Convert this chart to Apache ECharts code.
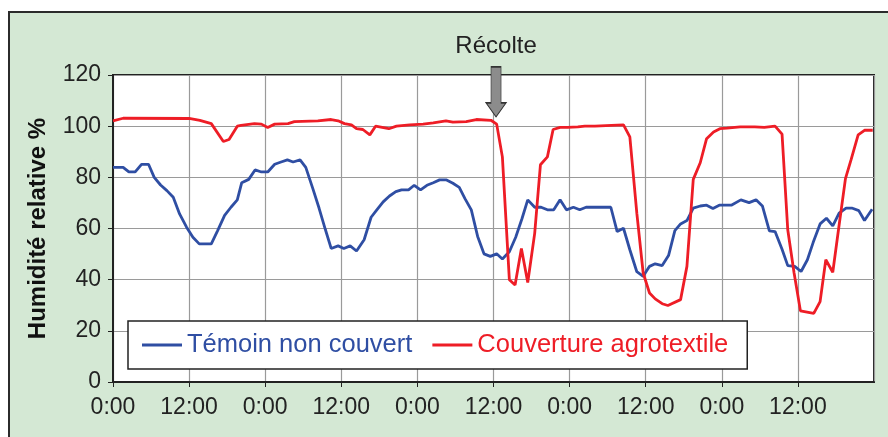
<!DOCTYPE html>
<html>
<head>
<meta charset="utf-8">
<script src="https://cdn.jsdelivr.net/npm/echarts@6.0.0/dist/echarts.min.js"></script>
<style>
  html, body { margin: 0; padding: 0; background: #fff; }
  .frame {
    position: absolute; left: 8px; top: 11px; width: 900px; height: 450px;
    background: #d4e8d4; border: 2px solid #2b2b2b;
  }
  #mychart { position: absolute; left: 0; top: 0; width: 888px; height: 437px; }
</style>
</head>
<body>
<div class="frame"></div>
<div id="mychart"></div>
<script>
// heures depuis le début (0:00 du premier jour)
const blueHours = [0, 1.6, 2.5, 3.5, 4.5, 5.6, 6.5, 7.5, 8.5, 9.5, 10.5, 11.6, 12.6, 13.6, 15.5, 16.5, 17.6, 18.6, 19.6,
  20.3, 21.4, 22.4, 23.4, 24.4, 25.5, 26.5, 27.5, 28.4, 29.5, 30.4, 31.5, 32.5, 33.5, 34.4, 35.5, 36.4, 37.4, 38.4, 39.6,
  40.7, 41.6, 42.6, 43.6, 44.6, 45.5, 46.6, 47.5, 48.5, 49.5, 50.5, 51.5, 52.6, 53.6, 54.6, 55.5, 56.5, 57.5, 58.5, 59.5,
  60.5, 61.4, 62.5, 63.5, 64.5, 65.4, 66.5, 67.5, 68.5, 69.5, 70.5, 71.5, 72.6, 73.6, 74.6, 78.5, 79.5,
  80.5, 81.5, 82.6, 83.6, 84.6, 85.5, 86.6, 87.6, 88.6, 89.5, 90.5, 91.5, 92.6, 93.6, 94.6, 95.6, 97.5, 99,
  100.3, 101.4, 102.4, 103.5, 104.4, 105.5, 106.4, 107.5, 108.5, 109.5, 110.4, 111.5, 112.5, 113.5, 114.5, 115.6, 116.5,
  117.6, 118.5, 119.7]
const temoin = [83.9, 83.9, 82.1, 82.1, 85.1, 85.1, 80, 77, 74.8, 72.2, 65.7, 60.5, 56.6, 54, 54, 59.2, 65.1, 68.3, 71.2,
  77.9, 79.2, 82.9, 82.1, 82.1, 85.1, 86, 86.8, 86, 86.8, 83.9, 75.7, 67.9, 59.5, 52.2, 53.2, 52.2, 53.2, 51.2, 55.6,
  64.4, 67.3, 70.4, 72.7, 74.4, 75.1, 75.1, 76.9, 75.1, 76.9, 77.9, 79, 79, 77.7, 76.1, 71.7, 67.3, 56.9, 50.1, 49.1,
  50.1, 48.1, 50.9, 56.6, 63.9, 71.2, 68.3, 68.3, 67.3, 67.3, 71.2, 67.3, 68.3, 67.3, 68.3, 68.3, 58.8,
  60.1, 51.7, 43.1, 41.3, 45.2, 46.2, 45.5, 49.4, 59.2, 61.8, 63.1, 68, 68.8, 69.1, 67.8, 69.1, 69.1, 71.2,
  70.1, 71.2, 68.8, 59.1, 58.8, 51.9, 45.5, 45.2, 43.2, 47.8, 54.5, 61.8, 64, 61, 66, 68, 68,
  67, 63.1, 67.5]

const redHours = [0, 1.6, 12, 13.7, 15.5, 17.4, 18.3, 19.6, 20.2, 22.3, 23.4, 24.4, 25.5, 27.6, 28.6, 32.3, 34.4, 35.5,
  36.5, 37.6, 38.4, 39.4, 40.5, 41.4, 43.5, 44.7, 46.8, 48.9, 50.5, 52.5, 53.6, 55.7, 57.3, 59.6, 60.5, 61.4, 62.5,
  63.4, 64.4, 65.4, 66.5, 67.4, 68.5, 69.4, 70.5, 71.7, 73.3, 74.4, 76, 78.6, 80.5, 81.5, 82.6, 83.6, 84.6, 85.5, 86.6,
  87.5, 89.5, 90.5, 91.5, 92.6, 93.6, 94.7, 95.7, 96.8, 98.9, 101.2, 102.7, 104.4, 105.5, 106.4, 107.4, 108.4, 110.5,
  111.5, 112.4, 113.5, 114.4, 115.5, 116.4, 117.5, 118.5, 119.8]
const agrotextile = [102.1, 103.1, 103, 102.3, 101, 94, 94.8, 100, 100.3, 101, 100.8, 99.5, 100.8, 101, 101.8, 102.1, 102.6, 102.1,
  101, 100.5, 99, 98.7, 96.6, 100, 99, 100, 100.5, 100.8, 101.3, 102.1, 101.6, 101.8, 102.6, 102.3, 100.8, 88, 40,
  37.9, 52.2, 38.9, 58.2, 84.9, 88, 98.7, 99.5, 99.5, 99.7, 100, 100, 100.3, 100.5, 95.8, 66, 42.6, 34.8, 32.5, 30.6,
  29.9, 32.2, 45.2, 79.2, 85.7, 95.1, 97.7, 99, 99.2, 99.7, 99.7, 99.5, 100, 96.9, 59.5, 42.6, 27.8, 26.8,
  31.4, 47.8, 42.9, 59.5, 79.5, 87, 96.6, 98.4, 98.4]

const recolte = [60.4, 113.4]
const xTickLabels = ['0:00', '12:00']

function zip(xs, ys) {
  return xs.map((x, i) => [x, ys[i]])
}

const font = '"Liberation Sans", Arial, sans-serif'
const blueColor = '#2f4ea3'
const redColor = '#ee1d26'

const myChart = echarts.init(document.querySelector('#mychart'))
myChart.setOption({
  animation: false,
  backgroundColor: 'transparent',
  textStyle: { fontFamily: font },
  grid: {
    left: 113, top: 75, width: 761, height: 307,
    show: true, backgroundColor: '#fff', borderColor: '#222', borderWidth: 2
  },
  legend: {
    left: 128, top: 321,
    padding: [11, 19, 11, 14],
    backgroundColor: '#fff', borderColor: '#222', borderWidth: 1.5,
    icon: 'rect', itemWidth: 40, itemHeight: 3, itemGap: 20,
    textStyle: { fontSize: 25.5, fontFamily: font },
    data: [
      { name: 'Témoin non couvert', textStyle: { color: blueColor } },
      { name: 'Couverture agrotextile', textStyle: { color: redColor } }
    ]
  },
  xAxis: {
    type: 'value', min: 0, max: 120, interval: 12,
    axisLine: { lineStyle: { color: '#222', width: 2 } },
    axisTick: { show: true, length: 5, lineStyle: { color: '#222' } },
    axisLabel: {
      color: '#222', fontSize: 23, margin: 14, showMaxLabel: false,
      formatter: v => xTickLabels[(v / 12) % 2]
    },
    splitLine: { show: true, lineStyle: { color: '#9a9a9a', width: 1.2 } }
  },
  yAxis: {
    type: 'value', min: 0, max: 120, interval: 20,
    name: 'Humidité relative %', nameLocation: 'middle', nameGap: 63, nameRotate: 90,
    nameTextStyle: { fontSize: 24, fontWeight: 'bold', color: '#111' },
    axisLine: { show: true, lineStyle: { color: '#222', width: 2 } },
    axisTick: { show: true, length: 5, lineStyle: { color: '#222' } },
    axisLabel: { color: '#222', fontSize: 23, margin: 12 },
    splitLine: { show: true, lineStyle: { color: '#9a9a9a', width: 1.2 } }
  },
  series: [
    {
      name: 'Témoin non couvert', type: 'line', symbol: 'none',
      data: zip(blueHours, temoin),
      lineStyle: { color: blueColor, width: 2.8 }, itemStyle: { color: blueColor }
    },
    {
      name: 'Couverture agrotextile', type: 'line', symbol: 'none',
      data: zip(redHours, agrotextile),
      lineStyle: { color: redColor, width: 2.8 }, itemStyle: { color: redColor },
      markPoint: {
        symbol: 'path://M5,0 L15,0 L15,36 L20,36 L10,50 L0,36 L5,36 Z',
        symbolSize: [20, 50],
        itemStyle: { color: '#8c8c8c', borderColor: '#333', borderWidth: 1 },
        label: {
          show: true, position: 'top', distance: 8,
          formatter: 'Récolte', color: '#222', fontSize: 24, fontFamily: font
        },
        data: [{ coord: recolte }]
      }
    }
  ]
})
</script>
</body>
</html>
